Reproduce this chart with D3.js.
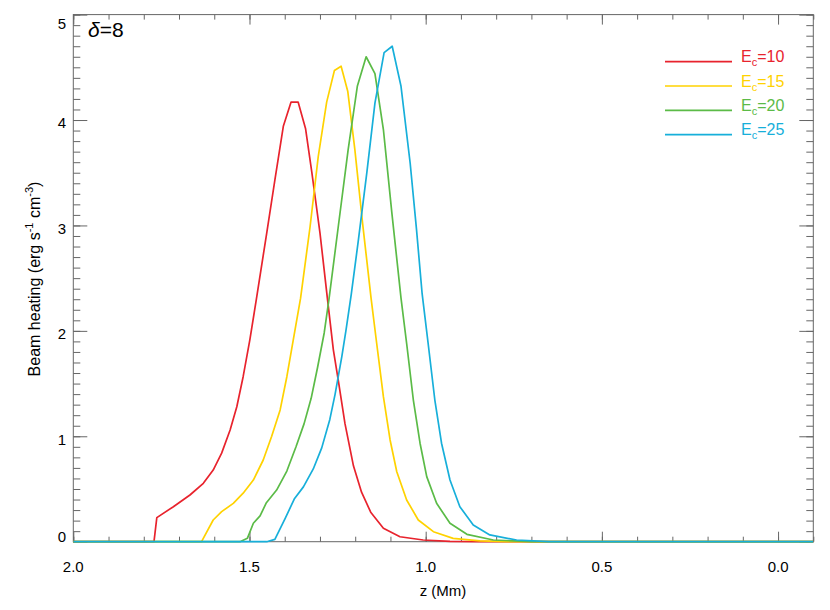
<!DOCTYPE html>
<html>
<head>
<meta charset="utf-8">
<script src="https://cdn.jsdelivr.net/npm/d3@7"></script>
<style>
  body { margin: 0; background: #fff; }
  text { font-family: "Liberation Sans", Arial, sans-serif; fill: #000; }
</style>
</head>
<body>
<div id="chartCont"></div>
<script>
// Beam heating vs height, delta = 8, four cutoff energies
const cutoffs = ["10", "15", "20", "25"];
const colors = ["#e8232d", "#ffd200", "#5bbb47", "#17afda"];

const zEc10 = [2.0, 1.771, 1.763, 1.716, 1.669, 1.631, 1.603, 1.579, 1.555, 1.536, 1.518, 1.499, 1.480, 1.451, 1.428, 1.404, 1.382, 1.362, 1.341, 1.323, 1.300, 1.279, 1.262, 1.248, 1.229, 1.205, 1.182, 1.156, 1.120, 1.073, 1.007, 0.931, 0.85, -0.1];
const qEc10 = [0, 0, 0.228, 0.332, 0.443, 0.554, 0.68, 0.84, 1.06, 1.28, 1.565, 1.914, 2.31, 2.93, 3.43, 3.94, 4.17, 4.17, 3.92, 3.50, 2.93, 2.31, 1.82, 1.53, 1.12, 0.72, 0.47, 0.28, 0.127, 0.047, 0.016, 0.003, 0, 0];

const zEc15 = [2.0, 1.636, 1.603, 1.579, 1.546, 1.518, 1.489, 1.461, 1.437, 1.413, 1.394, 1.376, 1.355, 1.328, 1.305, 1.281, 1.259, 1.240, 1.221, 1.201, 1.179, 1.155, 1.139, 1.120, 1.101, 1.082, 1.054, 1.021, 0.978, 0.922, 0.846, 0.77, -0.1];
const qEc15 = [0, 0, 0.206, 0.285, 0.364, 0.46, 0.585, 0.775, 1.0, 1.25, 1.565, 1.91, 2.31, 2.99, 3.65, 4.17, 4.47, 4.51, 4.27, 3.72, 3.02, 2.31, 1.88, 1.376, 0.965, 0.664, 0.396, 0.206, 0.095, 0.032, 0.008, 0, 0];

const zEc20 = [2.0, 1.527, 1.506, 1.489, 1.470, 1.452, 1.423, 1.394, 1.368, 1.345, 1.325, 1.307, 1.288, 1.274, 1.248, 1.220, 1.194, 1.169, 1.144, 1.120, 1.096, 1.070, 1.054, 1.035, 1.016, 0.997, 0.969, 0.931, 0.883, 0.808, 0.70, -0.1];
const qEc20 = [0, 0, 0.032, 0.175, 0.245, 0.37, 0.49, 0.67, 0.9, 1.12, 1.36, 1.65, 1.98, 2.31, 2.99, 3.72, 4.32, 4.60, 4.44, 3.91, 3.12, 2.31, 1.88, 1.344, 0.934, 0.617, 0.364, 0.175, 0.07, 0.016, 0, 0];

const zEc25 = [2.0, 1.451, 1.428, 1.399, 1.372, 1.347, 1.319, 1.295, 1.272, 1.257, 1.238, 1.226, 1.211, 1.191, 1.167, 1.144, 1.118, 1.095, 1.070, 1.044, 1.026, 1.010, 0.993, 0.974, 0.955, 0.931, 0.903, 0.865, 0.818, 0.742, 0.65, -0.1];
const qEc25 = [0, 0, 0.022, 0.22, 0.41, 0.52, 0.69, 0.89, 1.16, 1.40, 1.755, 2.01, 2.35, 2.86, 3.50, 4.16, 4.64, 4.70, 4.32, 3.59, 2.96, 2.35, 1.88, 1.344, 0.934, 0.585, 0.332, 0.158, 0.064, 0.016, 0, 0];

const xMajor = [2.0, 1.5, 1.0, 0.5, 0.0];
const yMajor = [0, 1, 2, 3, 4, 5];

(function() {
  let width = 830,
    height = 610;
  let left = 73.3, right = 813.3, top = 14.6, bottom = 541.7;

  let svg = d3.select("#chartCont")
    .append("svg")
    .attr("width", width)
    .attr("height", height);

  let x = d3.scaleLinear().domain([2.0, -0.1]).range([left, right]);
  let y = d3.scaleLinear().domain([0, 5]).range([bottom, top]);

  // minor ticks every 0.1 on both axes
  let xMinor = d3.range(-1, 21).map(function(i) { return i / 10; });
  let yMinor = d3.range(0, 51).map(function(i) { return i / 10; });

  function tickAxis(axis, size, vals, g) {
    g.call(axis.tickValues(vals).tickSize(size).tickFormat(""));
    g.select(".domain").remove();
    g.selectAll("line").attr("stroke", "#666");
  }

  tickAxis(d3.axisBottom(x), -5, xMinor, svg.append("g").attr("transform", "translate(0," + bottom + ")"));
  tickAxis(d3.axisBottom(x), -10, xMajor, svg.append("g").attr("transform", "translate(0," + bottom + ")"));
  tickAxis(d3.axisTop(x), -5, xMinor, svg.append("g").attr("transform", "translate(0," + top + ")"));
  tickAxis(d3.axisTop(x), -10, xMajor, svg.append("g").attr("transform", "translate(0," + top + ")"));
  tickAxis(d3.axisLeft(y), -7, yMinor, svg.append("g").attr("transform", "translate(" + left + ",0)"));
  tickAxis(d3.axisLeft(y), -14, yMajor, svg.append("g").attr("transform", "translate(" + left + ",0)"));
  tickAxis(d3.axisRight(y), -7, yMinor, svg.append("g").attr("transform", "translate(" + right + ",0)"));
  tickAxis(d3.axisRight(y), -14, yMajor, svg.append("g").attr("transform", "translate(" + right + ",0)"));

  // frame (curves go on top of it)
  svg.append("rect")
    .attr("x", left).attr("y", top)
    .attr("width", right - left).attr("height", bottom - top)
    .attr("fill", "none")
    .attr("stroke", "#666")
    .attr("stroke-width", 1);

  // tick labels
  svg.selectAll(".xlab")
    .data(xMajor)
    .enter().append("text")
    .attr("class", "xlab")
    .attr("x", function(d) { return x(d); })
    .attr("y", 571.5)
    .attr("text-anchor", "middle")
    .style("font-size", "15px")
    .text(function(d) { return d.toFixed(1); });

  svg.selectAll(".ylab")
    .data(yMajor)
    .enter().append("text")
    .attr("class", "ylab")
    .attr("x", 66)
    .attr("y", function(d) { return Math.min(Math.max(y(d) + 8.3, 29.3), 542.3); })
    .attr("text-anchor", "end")
    .style("font-size", "15px")
    .text(function(d) { return d; });

  // curves
  let series = [[zEc10, qEc10], [zEc15, qEc15], [zEc20, qEc20], [zEc25, qEc25]];
  let line = d3.line()
    .x(function(d) { return x(d[0]); })
    .y(function(d) { return y(d[1]); });

  svg.append("clipPath").attr("id", "plotClip")
    .append("rect")
    .attr("x", left).attr("y", top)
    .attr("width", right - left).attr("height", bottom - top + 2);

  svg.append("g")
    .attr("clip-path", "url(#plotClip)")
    .selectAll("path")
    .data(series)
    .enter().append("path")
    .attr("d", function(s) { return line(d3.zip(s[0], s[1])); })
    .attr("fill", "none")
    .attr("stroke", function(s, i) { return colors[i]; })
    .attr("stroke-width", 1.7)
    .attr("stroke-linejoin", "round");

  // legend
  let legend = svg.selectAll(".legend")
    .data(cutoffs)
    .enter().append("g")
    .attr("class", "legend")
    .attr("transform", function(d, i) { return "translate(0," + (61.7 + i * 24.3) + ")"; });

  legend.append("line")
    .attr("x1", 665).attr("x2", 732)
    .attr("stroke", function(d, i) { return colors[i]; })
    .attr("stroke-width", 1.7);

  let lt = legend.append("text")
    .attr("x", 741)
    .attr("y", 0.5)
    .style("font-size", "16px")
    .style("fill", function(d, i) { return colors[i]; });
  lt.append("tspan").text("E");
  lt.append("tspan").attr("dy", 4).style("font-size", "11px").text("c");
  lt.append("tspan").attr("dy", -4).text(function(d) { return "=" + d; });

  // delta label
  let dl = svg.append("text")
    .attr("x", 88)
    .attr("y", 36.5)
    .style("font-size", "21px");
  dl.append("tspan").style("font-style", "italic").text("δ");
  dl.append("tspan").text("=8");

  // axis titles
  svg.append("text")
    .attr("x", 443)
    .attr("y", 596)
    .attr("text-anchor", "middle")
    .style("font-size", "15px")
    .text("z (Mm)");

  let yt = svg.append("text")
    .attr("transform", "translate(40,279) rotate(-90)")
    .attr("text-anchor", "middle")
    .style("font-size", "16px");
  yt.append("tspan").text("Beam heating (erg s");
  yt.append("tspan").attr("dy", -7).style("font-size", "11px").text("-1");
  yt.append("tspan").attr("dy", 7).text(" cm");
  yt.append("tspan").attr("dy", -7).style("font-size", "11px").text("-3");
  yt.append("tspan").attr("dy", 7).text(")");
})();
</script>
</body>
</html>
